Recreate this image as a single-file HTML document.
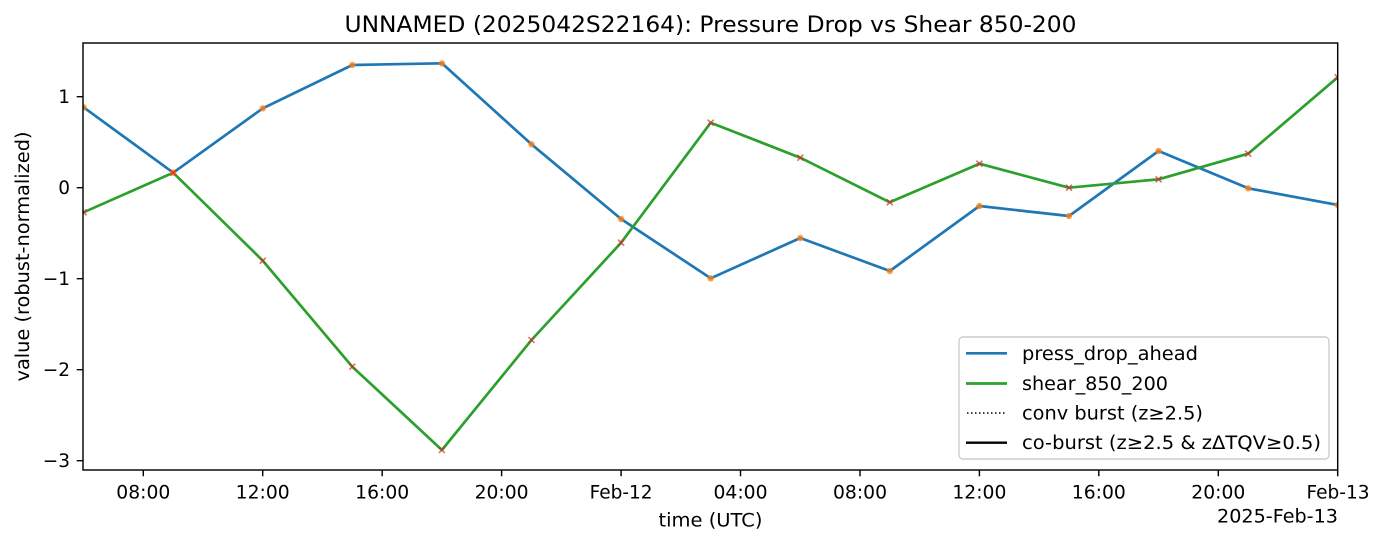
<!DOCTYPE html>
<html><head><meta charset="utf-8"><style>
html,body{margin:0;padding:0;background:#fff;}
svg{display:block;font-family:"DejaVu Sans","Liberation Sans",sans-serif;}
</style></head><body>
<svg width="1385" height="543" viewBox="0 0 1385 543" xmlns="http://www.w3.org/2000/svg">
<rect width="1385" height="543" fill="#fff"/>
<defs><clipPath id="c"><rect x="83" y="43" width="1255" height="427"/></clipPath></defs>
<text x="710.5" y="32" font-size="22" text-anchor="middle" fill="#000" textLength="732" lengthAdjust="spacingAndGlyphs">UNNAMED (2025042S22164): Pressure Drop vs Shear 850-200</text>
<g clip-path="url(#c)" fill="none" stroke-linejoin="round" stroke-linecap="square">
<polyline stroke="#1f77b4" stroke-width="2.7" points="83.6,107.3 173.2,172.7 262.8,108.3 352.3,65 441.9,63.3 531.5,144.3 621.1,219 710.7,278.3 800.3,238 889.8,271 979.4,206 1069,216 1158.6,151 1248.2,188.3 1337.7,205"/>
<polyline stroke="#2ca02c" stroke-width="2.7" points="83.6,212.3 173.2,172.7 262.8,260.7 352.3,366.7 441.9,450 531.5,340 621.1,242.7 710.7,122.7 800.3,157.7 889.8,202.3 979.4,163.7 1069,187.7 1158.6,179.3 1248.2,153.7 1337.7,77.3"/>
<g fill="#ff7f0e" fill-opacity="0.75" stroke="none">
<circle cx="83.6" cy="107.3" r="3.2"/><circle cx="173.2" cy="172.7" r="3.2"/><circle cx="262.8" cy="108.3" r="3.2"/><circle cx="352.3" cy="65" r="3.2"/><circle cx="441.9" cy="63.3" r="3.2"/><circle cx="531.5" cy="144.3" r="3.2"/><circle cx="621.1" cy="219" r="3.2"/><circle cx="710.7" cy="278.3" r="3.2"/><circle cx="800.3" cy="238" r="3.2"/><circle cx="889.8" cy="271" r="3.2"/><circle cx="979.4" cy="206" r="3.2"/><circle cx="1069" cy="216" r="3.2"/><circle cx="1158.6" cy="151" r="3.2"/><circle cx="1248.2" cy="188.3" r="3.2"/><circle cx="1337.7" cy="205" r="3.2"/>
</g>
<g stroke="#d62728" stroke-opacity="0.7" stroke-width="1.5" stroke-linecap="butt">
<path d="M80.6,209.3l6,6M80.6,215.3l6,-6"/>
<path d="M170.2,169.7l6,6M170.2,175.7l6,-6"/>
<path d="M259.8,257.7l6,6M259.8,263.7l6,-6"/>
<path d="M349.3,363.7l6,6M349.3,369.7l6,-6"/>
<path d="M438.9,447l6,6M438.9,453l6,-6"/>
<path d="M528.5,337l6,6M528.5,343l6,-6"/>
<path d="M618.1,239.7l6,6M618.1,245.7l6,-6"/>
<path d="M707.7,119.7l6,6M707.7,125.7l6,-6"/>
<path d="M797.3,154.7l6,6M797.3,160.7l6,-6"/>
<path d="M886.8,199.3l6,6M886.8,205.3l6,-6"/>
<path d="M976.4,160.7l6,6M976.4,166.7l6,-6"/>
<path d="M1066,184.7l6,6M1066,190.7l6,-6"/>
<path d="M1155.6,176.3l6,6M1155.6,182.3l6,-6"/>
<path d="M1245.2,150.7l6,6M1245.2,156.7l6,-6"/>
<path d="M1334.7,74.3l6,6M1334.7,80.3l6,-6"/>
</g>
</g>
<!-- legend -->
<rect x="959" y="337" width="370" height="122" rx="4" ry="4" fill="#fff" fill-opacity="0.8" stroke="#cccccc" stroke-width="1.4"/>
<line x1="966" y1="353.3" x2="1007" y2="353.3" stroke="#1f77b4" stroke-width="2.7"/>
<line x1="966" y1="383.5" x2="1007" y2="383.5" stroke="#2ca02c" stroke-width="2.7"/>
<line x1="967" y1="413" x2="1007" y2="413" stroke="#000" stroke-width="1.5" stroke-dasharray="1.5,2.5"/>
<line x1="966" y1="442.7" x2="1007" y2="442.7" stroke="#000" stroke-width="2.4"/>
<g font-size="18.5" fill="#000">
<text x="1022" y="359.8" textLength="176" lengthAdjust="spacingAndGlyphs">press_drop_ahead</text>
<text x="1022" y="390" textLength="146" lengthAdjust="spacingAndGlyphs">shear_850_200</text>
<text x="1022" y="419.5" textLength="181" lengthAdjust="spacingAndGlyphs">conv burst (z≥2.5)</text>
<text x="1022" y="449.2" textLength="299" lengthAdjust="spacingAndGlyphs">co-burst (z≥2.5 &amp; zΔTQV≥0.5)</text>
</g>
<!-- axes frame -->
<rect x="83" y="43" width="1254.7" height="427" fill="none" stroke="#000" stroke-width="1.44"/>
<!-- ticks -->
<g stroke="#000" stroke-width="1.44">
<path d="M143.3,470v6.3M262.7,470v6.3M382.2,470v6.3M501.6,470v6.3M621.1,470v6.3M740.5,470v6.3M860,470v6.3M979.4,470v6.3M1098.8,470v6.3M1218.3,470v6.3M1337.7,470v6.3"/>
<path d="M83,96.7h-6.3M83,187.7h-6.3M83,278.7h-6.3M83,369.7h-6.3M83,460.7h-6.3"/>
</g>
<g font-size="18.5" fill="#000" text-anchor="middle">
<text x="143.3" y="498.3" textLength="54" lengthAdjust="spacingAndGlyphs">08:00</text>
<text x="262.7" y="498.3" textLength="54" lengthAdjust="spacingAndGlyphs">12:00</text>
<text x="382.2" y="498.3" textLength="54" lengthAdjust="spacingAndGlyphs">16:00</text>
<text x="501.6" y="498.3" textLength="54" lengthAdjust="spacingAndGlyphs">20:00</text>
<text x="621.1" y="498.3" textLength="63" lengthAdjust="spacingAndGlyphs">Feb-12</text>
<text x="740.5" y="498.3" textLength="54" lengthAdjust="spacingAndGlyphs">04:00</text>
<text x="860" y="498.3" textLength="54" lengthAdjust="spacingAndGlyphs">08:00</text>
<text x="979.4" y="498.3" textLength="54" lengthAdjust="spacingAndGlyphs">12:00</text>
<text x="1098.8" y="498.3" textLength="54" lengthAdjust="spacingAndGlyphs">16:00</text>
<text x="1218.3" y="498.3" textLength="54" lengthAdjust="spacingAndGlyphs">20:00</text>
<text x="1338" y="498.3" textLength="63" lengthAdjust="spacingAndGlyphs">Feb-13</text>
</g>
<text x="1338" y="522.7" font-size="18.5" text-anchor="end" fill="#000" textLength="121" lengthAdjust="spacingAndGlyphs">2025-Feb-13</text>
<text x="710.5" y="526.7" font-size="18.5" text-anchor="middle" fill="#000" textLength="104" lengthAdjust="spacingAndGlyphs">time (UTC)</text>
<g font-size="18.5" fill="#000" text-anchor="end">
<text x="70" y="103.2">1</text>
<text x="70" y="194.2">0</text>
<text x="70" y="285.2">−1</text>
<text x="70" y="376.2">−2</text>
<text x="70" y="467.2">−3</text>
</g>
<text x="0" y="0" font-size="18.5" text-anchor="middle" fill="#000" transform="translate(29,256.5) rotate(-90)" textLength="250" lengthAdjust="spacingAndGlyphs">value (robust-normalized)</text>
</svg>
</body></html>
